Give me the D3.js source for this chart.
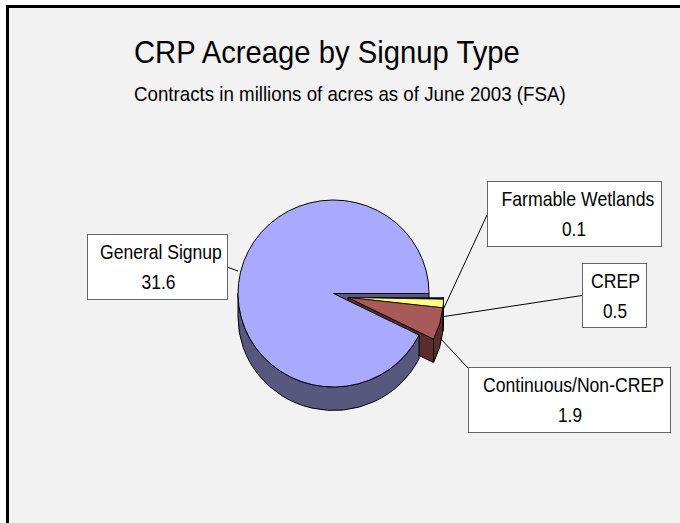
<!DOCTYPE html>
<html><head><meta charset="utf-8">
<script src="https://cdn.jsdelivr.net/npm/d3@7"></script>
<style>html,body{margin:0;padding:0;background:#fff}svg{display:block}text{font-family:"Liberation Sans",Arial,sans-serif;fill:#000}</style>
</head><body><svg id="c" width="680" height="523"></svg>
<script>
const categories = ["Farmable Wetlands", "CREP", "Continuous/Non-CREP", "General Signup"];
const values = [0.1, 0.5, 1.9, 31.6];
const valueLabels = ["0.1", "0.5", "1.9", "31.6"];
const topColors = ["#000080", "#FFFF80", "#A85A5A", "#A9A9FF"];
const wallColors = ["#000040", "#808040", "#5A2D2D", "#58587F"];
const titleText = "CRP Acreage by Signup Type";
const subtitleText = "Contracts in millions of acres as of June 2003 (FSA)";

(function(){
const svg = d3.select("#c");
svg.append("rect").attr("x",7.5).attr("y",6.5).attr("width",680).attr("height",530)
  .attr("fill","#f2f2f2").attr("stroke","#000").attr("stroke-width",3);

const cx=333.5, cy=293.5, rx=95.5, ry=93.5, depth=23.5;
const explode=[14.5,4];
const pie=d3.pie().sort(null).startAngle(Math.PI/2).endAngle(Math.PI/2+2*Math.PI);
const arcs=pie(values);
const pt=(a,dx=0,dy=0)=>[cx+dx+rx*Math.sin(a), cy+dy-ry*Math.cos(a)];
function wallPath(a0,a1,dx,dy){
  const p0=pt(a0,dx,dy),p1=pt(a1,dx,dy);
  return `M${p0}A${rx},${ry} 0 0 1 ${p1}L${p1[0]},${p1[1]+depth}A${rx},${ry} 0 0 0 ${p0[0]},${p0[1]+depth}Z`;
}
function topPath(a0,a1,dx,dy){
  const p0=pt(a0,dx,dy),p1=pt(a1,dx,dy),large=(a1-a0)>Math.PI?1:0;
  return `M${cx+dx},${cy+dy}L${p0}A${rx},${ry} 0 ${large} 1 ${p1}Z`;
}
function radialPath(a,dx,dy){
  const p=pt(a,dx,dy),x0=cx+dx,y0=cy+dy;
  return `M${x0},${y0}L${p}L${p[0]},${p[1]+depth}L${x0},${y0+depth}Z`;
}
const draw=(d,fill)=>svg.append("path").attr("d",d).attr("fill",fill)
  .attr("stroke","#000").attr("stroke-width",1).attr("stroke-linejoin","round");

const gen=arcs[3], g=3;
draw(radialPath(gen.endAngle,0,0),wallColors[g]);
draw(radialPath(arcs[2].endAngle,...explode),wallColors[2]);
arcs.slice(0,3).forEach((d,i)=>draw(wallPath(d.startAngle,d.endAngle,...explode),wallColors[i]));
draw(wallPath(gen.startAngle,1.5*Math.PI,0,0),wallColors[g]);
draw(topPath(gen.startAngle,gen.endAngle,0,0),topColors[g]);
arcs.slice(0,3).forEach((d,i)=>draw(topPath(d.startAngle,d.endAngle,...explode),topColors[i]).attr("stroke-width",i==0?0.5:0.8));

// squeezed text: real text scaled horizontally to the reference's width
function squeezed(x,y,size,width,str){
  const t=svg.append("text").attr("font-size",size).text(str);
  const k=width/t.node().getComputedTextLength();
  t.attr("transform",`translate(${x},${y}) scale(${k},1)`);
  return t;
}
const boxes=[
 {x:487,y:181,w:174,h:65,nameX:501.5,valX:562,nameW:153,valW:24,lead:[[487,215],[443,310]]},
 {x:582,y:263,w:64,h:64,nameX:591,valX:603,nameW:49,valW:24,lead:[[582,295.5],[444,316.5]]},
 {x:468,y:367,w:202,h:65,nameX:483,valX:558,nameW:181,valW:24,lead:[[468,368],[440,338]]},
 {x:87,y:234,w:140,h:65,nameX:100,valX:141.5,nameW:122,valW:34,lead:[[227,267],[238,271]]}
];
boxes.forEach((b,i)=>{
  svg.append("path").attr("d",d3.line()(b.lead)).attr("stroke","#000").attr("fill","none");
  svg.append("rect").attr("x",b.x+.5).attr("y",b.y+.5).attr("width",b.w).attr("height",b.h)
    .attr("fill","#fff").attr("stroke","#666");
  squeezed(b.nameX,b.y+25,20,b.nameW,categories[i]);
  squeezed(b.valX,b.y+55,20,b.valW,valueLabels[i]);
});
squeezed(134,63,32,386,titleText);
squeezed(134,100.5,20,432,subtitleText);
})();
</script></body></html>
